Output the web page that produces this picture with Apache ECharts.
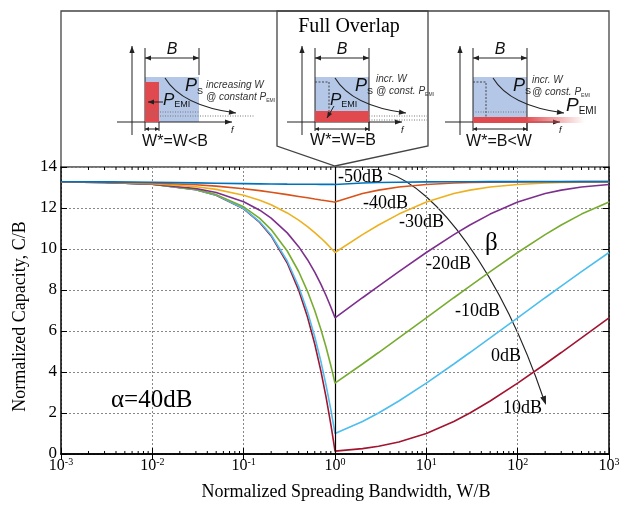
<!DOCTYPE html>
<html>
<head>
<meta charset="utf-8">
<script src="https://cdn.jsdelivr.net/npm/echarts@6/dist/echarts.min.js"></script>
<style>
  html, body { margin: 0; padding: 0; background: #fff; }
  #main { width: 630px; height: 506px; }
</style>
</head>
<body>
<div id="main"></div>
<script>
// normalized spreading bandwidth W/B (log axis)
const wRatio = [0.001, 0.003, 0.01, 0.03, 0.05, 0.1, 0.15, 0.2, 0.3, 0.4, 0.5, 0.6, 0.7, 0.8, 0.9, 0.95, 1,
  2, 3, 5, 10, 20, 30, 50, 100, 200, 300, 500, 1000];

// normalized capacity C/B, one array per beta
const capMinus50 = [13.281, 13.273, 13.253, 13.224, 13.208, 13.188, 13.177, 13.171, 13.164, 13.160, 13.157, 13.155, 13.153, 13.153, 13.152, 13.151, 13.150,
  13.218, 13.241, 13.259, 13.274, 13.281, 13.283, 13.285, 13.286, 13.287, 13.287, 13.288, 13.288];
const capMinus40 = [13.278, 13.263, 13.221, 13.135, 13.068, 12.942, 12.847, 12.771, 12.654, 12.565, 12.496, 12.439, 12.392, 12.353, 12.318, 12.302, 12.288,
  12.703, 12.873, 13.025, 13.150, 13.218, 13.241, 13.259, 13.274, 13.281, 13.283, 13.285, 13.286];
const capMinus30 = [13.276, 13.254, 13.190, 13.038, 12.907, 12.623, 12.377, 12.155, 11.759, 11.409, 11.093, 10.803, 10.535, 10.286, 10.051, 9.939, 9.830,
  10.704, 11.173, 11.703, 12.288, 12.703, 12.873, 13.025, 13.150, 13.218, 13.241, 13.259, 13.274];
const capMinus20 = [13.275, 13.249, 13.165, 12.949, 12.753, 12.305, 11.894, 11.508, 10.787, 10.114, 9.477, 8.868, 8.284, 7.721, 7.174, 6.907, 6.644,
  7.623, 8.191, 8.898, 9.830, 10.704, 11.173, 11.703, 12.288, 12.703, 12.873, 13.025, 13.150];
const capMinus10 = [13.275, 13.248, 13.156, 12.901, 12.653, 12.059, 11.493, 10.947, 9.902, 8.902, 7.936, 6.999, 6.086, 5.194, 4.319, 3.887, 3.458,
  4.390, 4.950, 5.665, 6.644, 7.623, 8.191, 8.898, 9.830, 10.704, 11.173, 11.703, 12.288];
const cap0 = [13.275, 13.248, 13.155, 12.890, 12.627, 11.973, 11.325, 10.683, 9.415, 8.167, 6.936, 5.722, 4.522, 3.336, 2.162, 1.579, 1.000,
  1.585, 2.000, 2.585, 3.458, 4.390, 4.950, 5.665, 6.644, 7.623, 8.191, 8.898, 9.830];
const cap10 = [13.275, 13.248, 13.155, 12.889, 12.624, 11.960, 11.298, 10.636, 9.314, 7.995, 6.679, 5.366, 4.055, 2.746, 1.441, 0.789, 0.138,
  0.263, 0.379, 0.585, 1.000, 1.585, 2.000, 2.584, 3.458, 4.390, 4.950, 5.665, 6.644];

const betaNames = ['-50dB', '-40dB', '-30dB', '-20dB', '-10dB', '0dB', '10dB'];
const betaColors = ['#0072BD', '#D95319', '#EDB120', '#7E2F8E', '#77AC30', '#4DBEEE', '#A2142F'];
const capacities = [capMinus50, capMinus40, capMinus30, capMinus20, capMinus10, cap0, cap10];

const yTicks = [0, 2, 4, 6, 8, 10, 12, 14];
const decades = [0.001, 0.01, 0.1, 1, 10, 100];
const minorFactors = [2, 3, 4, 5, 6, 7, 8, 9];

const minorTicks = [];
decades.forEach(d => minorFactors.forEach(f => minorTicks.push(d * f)));

const chart = echarts.init(document.getElementById('main'));

const serif = '"Liberation Serif", "Times New Roman", serif';
const sans = '"Liberation Sans", Arial, sans-serif';

// ---- graphic helpers for the inset sketches and annotations ----
const g = [];
function ln(x1, y1, x2, y2, style) {
  g.push({ type: 'line', silent: true, shape: { x1, y1, x2, y2 },
    style: Object.assign({ stroke: '#222', lineWidth: 1 }, style || {}) });
}
function head(x, y, dx, dy, len, wid) {
  len = len || 7; wid = wid || 2.6;
  const L = Math.hypot(dx, dy), ux = dx / L, uy = dy / L, px = -uy, py = ux;
  g.push({ type: 'polygon', silent: true, shape: { points: [[x, y],
    [x - ux * len + px * wid, y - uy * len + py * wid],
    [x - ux * len - px * wid, y - uy * len - py * wid]] }, style: { fill: '#222' } });
}
function arrow(x1, y1, x2, y2, len, wid) {
  ln(x1, y1, x2, y2);
  head(x2, y2, x2 - x1, y2 - y1, len, wid);
}
function dblArrow(x1, y, x2, len, wid) {
  ln(x1, y, x2, y);
  head(x2, y, 1, 0, len, wid);
  head(x1, y, -1, 0, len, wid);
}
function rect(x, y, w, h, fill) {
  g.push({ type: 'rect', silent: true, shape: { x, y, width: w, height: h }, style: { fill } });
}
function txt(x, y, text, style) {
  g.push({ type: 'text', silent: true, x, y, z: 10,
    style: Object.assign({ text, fill: '#111', font: '15px ' + sans, align: 'left', verticalAlign: 'middle' }, style || {}) });
}
function subTxt(x, y, main, sub, size, subSize) {
  txt(x, y, '{p|' + main + '}{s|' + sub + '}', {
    rich: {
      p: { fontSize: size, fontFamily: sans, fontStyle: 'italic', lineHeight: size + 2, verticalAlign: 'middle' },
      s: { fontSize: subSize, fontFamily: sans, lineHeight: subSize + 1, verticalAlign: 'bottom' }
    }
  });
}
function smallNote(x, y, l1, l2) {
  txt(x, y, l1, { font: 'italic 10px ' + sans, fill: '#333' });
  txt(x, y + 12, '{a|' + l2 + '}{b|EMI}', { fill: '#333', rich: {
    a: { fontSize: 10, fontFamily: sans, fontStyle: 'italic', lineHeight: 12 },
    b: { fontSize: 5, fontFamily: sans, lineHeight: 6, verticalAlign: 'bottom' } } });
}

const blue = '#B4C7E7';
const red = '#E04A4F';
const dotted = { stroke: '#777', lineDash: [1, 1.5], lineWidth: 1 };

// outer inset box and "Full Overlap" callout
g.push({ type: 'rect', silent: true, shape: { x: 61, y: 11, width: 548, height: 156 },
  style: { fill: 'none', stroke: '#444', lineWidth: 1.3 } });
g.push({ type: 'polygon', silent: true, shape: { points: [[277, 11], [428, 11], [428, 146], [335, 166], [277, 146]] },
  style: { fill: 'none', stroke: '#444', lineWidth: 1.3 } });
txt(349, 27, 'Full Overlap', { font: '20px ' + serif, align: 'center', fill: '#000' });

// shared skeleton of one sketch
function sketch(dx, redW, rightLineFull) {
  const L = 145 + dx, R = 199 + dx;
  rect(L, 77, 54, 45, blue);
  arrow(132 + dx, 135, 132 + dx, 46, 7, 2.6);
  arrow(117 + dx, 122, 232 + dx, 122, 7, 2.6);
  txt(231 + dx, 130, 'f', { font: 'italic 9px ' + sans });
  ln(L, 48, L, 131);
  ln(R, 48, R, rightLineFull ? 131 : 75);
  dblArrow(L, 58, R, 6, 2.4);
  txt(172 + dx, 50, 'B', { font: 'italic 16px ' + sans, align: 'center' });
  ln(L + redW, 122, L + redW, 131);
  dblArrow(L, 129, L + redW, 4, 2);
  g.push({ type: 'bezierCurve', silent: true,
    shape: { x1: 165 + dx, y1: 78, cpx1: 182 + dx, cpy1: 106, x2: 236 + dx, y2: 113 },
    style: { stroke: '#222', lineWidth: 1.1, fill: 'none' } });
  head(236 + dx, 113, 54, 7, 7, 2.6);
  subTxt(185 + dx, 86, 'P', 'S', 18, 9);
}

// W* = W < B
sketch(0, 14, false);
rect(145, 82, 14, 40, red);
ln(145, 112, 199, 112, dotted);
ln(145, 116, 255, 116, dotted);
arrow(163, 102, 148, 102, 6, 2.6);
subTxt(163, 100, 'P', 'EMI', 17, 9);
smallNote(206, 85, 'increasing W', '@ constant P');
txt(175, 142, 'W*=W<B', { font: '16px ' + sans, align: 'center' });

// W* = W = B
sketch(170, 54, true);
rect(315, 111, 54, 11, red);
g.push({ type: 'polyline', silent: true, shape: { points: [[315, 82], [329, 82], [329, 111]] },
  style: { stroke: '#444', lineDash: [2, 1.5], lineWidth: 1, fill: 'none' } });
ln(369, 116, 427, 116, dotted);
ln(369, 120, 427, 120, dotted);
arrow(334, 106, 327, 118, 6, 2.4);
subTxt(330, 100, 'P', 'EMI', 17, 9);
smallNote(376, 79, 'incr. W', '@ const. P');
txt(343, 141, 'W*=W=B', { font: '16px ' + sans, align: 'center' });

// W* = B < W
sketch(328, 54, true);
rect(473, 117, 54, 6, red);
g.push({ type: 'rect', silent: true, shape: { x: 527, y: 117, width: 58, height: 6 },
  style: { fill: { type: 'linear', x: 0, y: 0, x2: 1, y2: 0,
    colorStops: [{ offset: 0, color: 'rgba(224,74,79,0.95)' }, { offset: 1, color: 'rgba(224,74,79,0)' }] } } });
g.push({ type: 'polyline', silent: true, shape: { points: [[473, 82], [486, 82], [486, 117]] },
  style: { stroke: '#444', lineDash: [2, 1.5], lineWidth: 1, fill: 'none' } });
ln(473, 112, 527, 112, dotted);
subTxt(566, 106, 'P', 'EMI', 19, 10);
smallNote(532, 80, 'incr. W', '@ const. P');
txt(499, 142, 'W*=B<W', { font: '16px ' + sans, align: 'center' });

// beta labels and arrow in the plot
const betaLabelPos = [[338, 177], [363, 203], [399, 222], [426, 264], [455, 311], [491, 356], [503, 408]];
betaNames.forEach((n, i) => txt(betaLabelPos[i][0], betaLabelPos[i][1], n, { font: '18px ' + serif, fill: '#000' }));
txt(485, 243, 'β', { font: '25px ' + serif, fill: '#000' });
txt(111, 400, 'α=40dB', { font: '25px ' + serif, fill: '#000' });
g.push({ type: 'bezierCurve', silent: true,
  shape: { x1: 388, y1: 173, cpx1: 435, cpy1: 188, cpx2: 500, cpy2: 270, x2: 544, y2: 400 },
  style: { stroke: '#222', lineWidth: 1.1, fill: 'none' } });
head(546, 405, 45, 132, 9, 3);

const series = capacities.map((vals, i) => ({
  name: betaNames[i],
  type: 'line',
  showSymbol: false,
  silent: true,
  data: wRatio.map((w, k) => [w, vals[k]]),
  lineStyle: { color: betaColors[i], width: 1.6 },
  itemStyle: { color: betaColors[i] },
  z: 3 + (6 - i)
}));
series[0].markLine = {
  silent: true,
  symbol: ['none', 'none'],
  label: { show: false },
  lineStyle: { color: '#000', type: 'solid', width: 1.2 },
  data: [{ xAxis: 1 }]
};
// minor log ticks (2..9 per decade), bottom and top edges
series.push({
  type: 'custom',
  silent: true,
  clip: false,
  data: minorTicks.map(v => [v]),
  renderItem: (params, api) => {
    const b = api.coord([api.value(0), 0]);
    const t = api.coord([api.value(0), 14]);
    return { type: 'group', children: [
      { type: 'line', shape: { x1: b[0], y1: b[1], x2: b[0], y2: b[1] - 3 }, style: { stroke: '#000', lineWidth: 1 } },
      { type: 'line', shape: { x1: t[0], y1: t[1], x2: t[0], y2: t[1] + 3 }, style: { stroke: '#000', lineWidth: 1 } }
    ] };
  },
  z: 10
});

const axisLine = { show: true, lineStyle: { color: '#000', width: 1.5 } };
const gridLine = { show: true, lineStyle: { color: '#888', type: [2, 2], width: 1 } };

const option = {
  backgroundColor: '#fff',
  animation: false,
  grid: { left: 61, right: 21, top: 167, bottom: 50 },
  xAxis: [{
    type: 'log', logBase: 10, min: 0.001, max: 1000,
    axisLine, splitLine: gridLine,
    axisTick: { inside: true, length: 6, lineStyle: { color: '#000' } },
    axisLabel: {
      margin: 3,
      formatter: v => '{b|10}{s|' + Math.round(Math.log10(v)) + '}',
      rich: {
        b: { fontSize: 16, fontFamily: serif, color: '#000', lineHeight: 18 },
        s: { fontSize: 10, fontFamily: serif, color: '#000', lineHeight: 10, verticalAlign: 'top' }
      }
    },
    name: 'Normalized Spreading Bandwidth, W/B',
    nameLocation: 'middle',
    nameGap: 29,
    nameTextStyle: { fontSize: 18, fontFamily: serif, color: '#000', padding: [0, 0, 0, 22] }
  }, {
    type: 'log', logBase: 10, min: 0.001, max: 1000, position: 'top',
    axisLine, splitLine: { show: false },
    axisTick: { inside: true, length: 6, lineStyle: { color: '#000' } },
    axisLabel: { show: false }
  }],
  yAxis: [{
    type: 'value', min: yTicks[0], max: yTicks[yTicks.length - 1], interval: 2,
    axisLine, splitLine: gridLine,
    axisTick: { inside: true, length: 6, lineStyle: { color: '#000' } },
    axisLabel: { margin: 4, fontSize: 17, fontFamily: serif, color: '#000' },
    name: 'Normalized Capacity, C/B',
    nameLocation: 'middle',
    nameGap: 30,
    nameTextStyle: { fontSize: 18, fontFamily: serif, color: '#000', padding: [0, 12, 0, 0] }
  }, {
    type: 'value', min: yTicks[0], max: yTicks[yTicks.length - 1], interval: 2, position: 'right',
    axisLine, splitLine: { show: false },
    axisTick: { inside: true, length: 6, lineStyle: { color: '#000' } },
    axisLabel: { show: false }
  }],
  series,
  graphic: g
};
chart.setOption(option);
</script>
</body>
</html>
